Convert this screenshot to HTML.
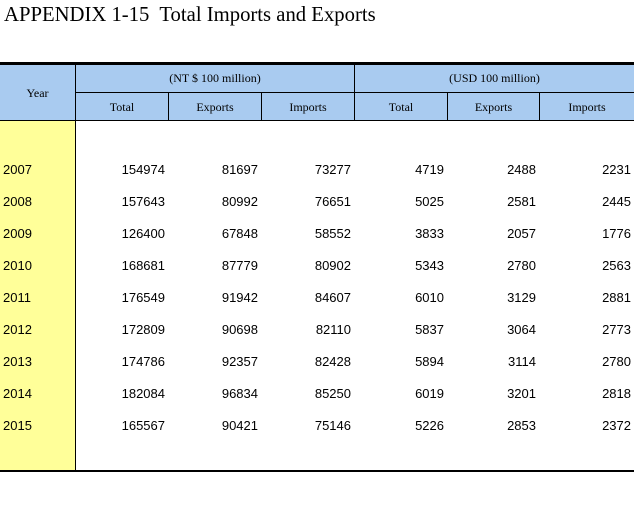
<!DOCTYPE html>
<html><head><meta charset="utf-8"><style>
body{margin:0;width:634px;height:505px;background:#fff;position:relative;overflow:hidden;font-family:"Liberation Sans",sans-serif}
.a{position:absolute}
.t{font-family:"Liberation Serif",serif;color:#000}
.h{font-family:"Liberation Serif",serif;font-size:12px;text-align:center;color:#000}
.n{font-size:13px;text-align:right;color:#000}
</style></head><body>
<div class="a t" style="left:4px;top:4px;font-size:20.7px;white-space:pre">APPENDIX 1-15  Total Imports and Exports</div>
<div class="a" style="left:0;top:64px;width:634px;height:57px;background:#a9cbf0"></div>
<div class="a" style="left:0;top:121px;width:75px;height:350px;background:#ffff99"></div>
<div class="a" style="left:0;top:62px;width:634px;height:3px;background:#000"></div>
<div class="a" style="left:75px;top:92px;width:559px;height:1px;background:#000"></div>
<div class="a" style="left:0;top:120px;width:634px;height:1px;background:#000"></div>
<div class="a" style="left:0;top:470px;width:634px;height:2px;background:#000"></div>
<div class="a" style="left:75px;top:64px;width:1px;height:407px;background:#000"></div>
<div class="a" style="left:354px;top:64px;width:1px;height:57px;background:#000"></div>
<div class="a" style="left:168px;top:92px;width:1px;height:29px;background:#000"></div>
<div class="a" style="left:261px;top:92px;width:1px;height:29px;background:#000"></div>
<div class="a" style="left:447px;top:92px;width:1px;height:29px;background:#000"></div>
<div class="a" style="left:539px;top:92px;width:1px;height:29px;background:#000"></div>
<div class="a h" style="left:0;top:86px;width:75px">Year</div>
<div class="a h" style="left:76px;top:71px;width:278px">(NT $ 100 million)</div>
<div class="a h" style="left:355px;top:71px;width:279px">(USD 100 million)</div>
<div id="sub"></div>
<div id="body"></div>
<script>
const years=["2007","2008","2009","2010","2011","2012","2013","2014","2015"];
const ntTotal=[154974,157643,126400,168681,176549,172809,174786,182084,165567];
const ntExports=[81697,80992,67848,87779,91942,90698,92357,96834,90421];
const ntImports=[73277,76651,58552,80902,84607,82110,82428,85250,75146];
const usdTotal=[4719,5025,3833,5343,6010,5837,5894,6019,5226];
const usdExports=[2488,2581,2057,2780,3129,3064,3114,3201,2853];
const usdImports=[2231,2445,1776,2563,2881,2773,2780,2818,2372];
const subLabels=["Total","Exports","Imports","Total","Exports","Imports"];
const colL=[76,169,262,355,448,540],colR=[168,261,354,447,539,634];
const sub=document.getElementById('sub');
subLabels.forEach((s,i)=>{const d=document.createElement('div');d.className='a h';


d.style.left=colL[i]+'px';d.style.top='100px';d.style.width=(colR[i]-colL[i])+'px';d.textContent=s;sub.appendChild(d);});
const series=[ntTotal,ntExports,ntImports,usdTotal,usdExports,usdImports];
const rows=document.getElementById('body');
years.forEach((y,r)=>{const top=162+r*32;
const yd=document.createElement('div');yd.className='a';yd.style.cssText='left:3px;top:'+top+'px;font-size:13px';yd.textContent=y;


rows.appendChild(yd);
series.forEach((s,i)=>{const d=document.createElement('div');d.className='a n';


d.style.left=colL[i]+'px';d.style.top=top+'px';d.style.width=(colR[i]-colL[i]-3)+'px';d.textContent=s[r];rows.appendChild(d);});});
</script>
</body></html>
